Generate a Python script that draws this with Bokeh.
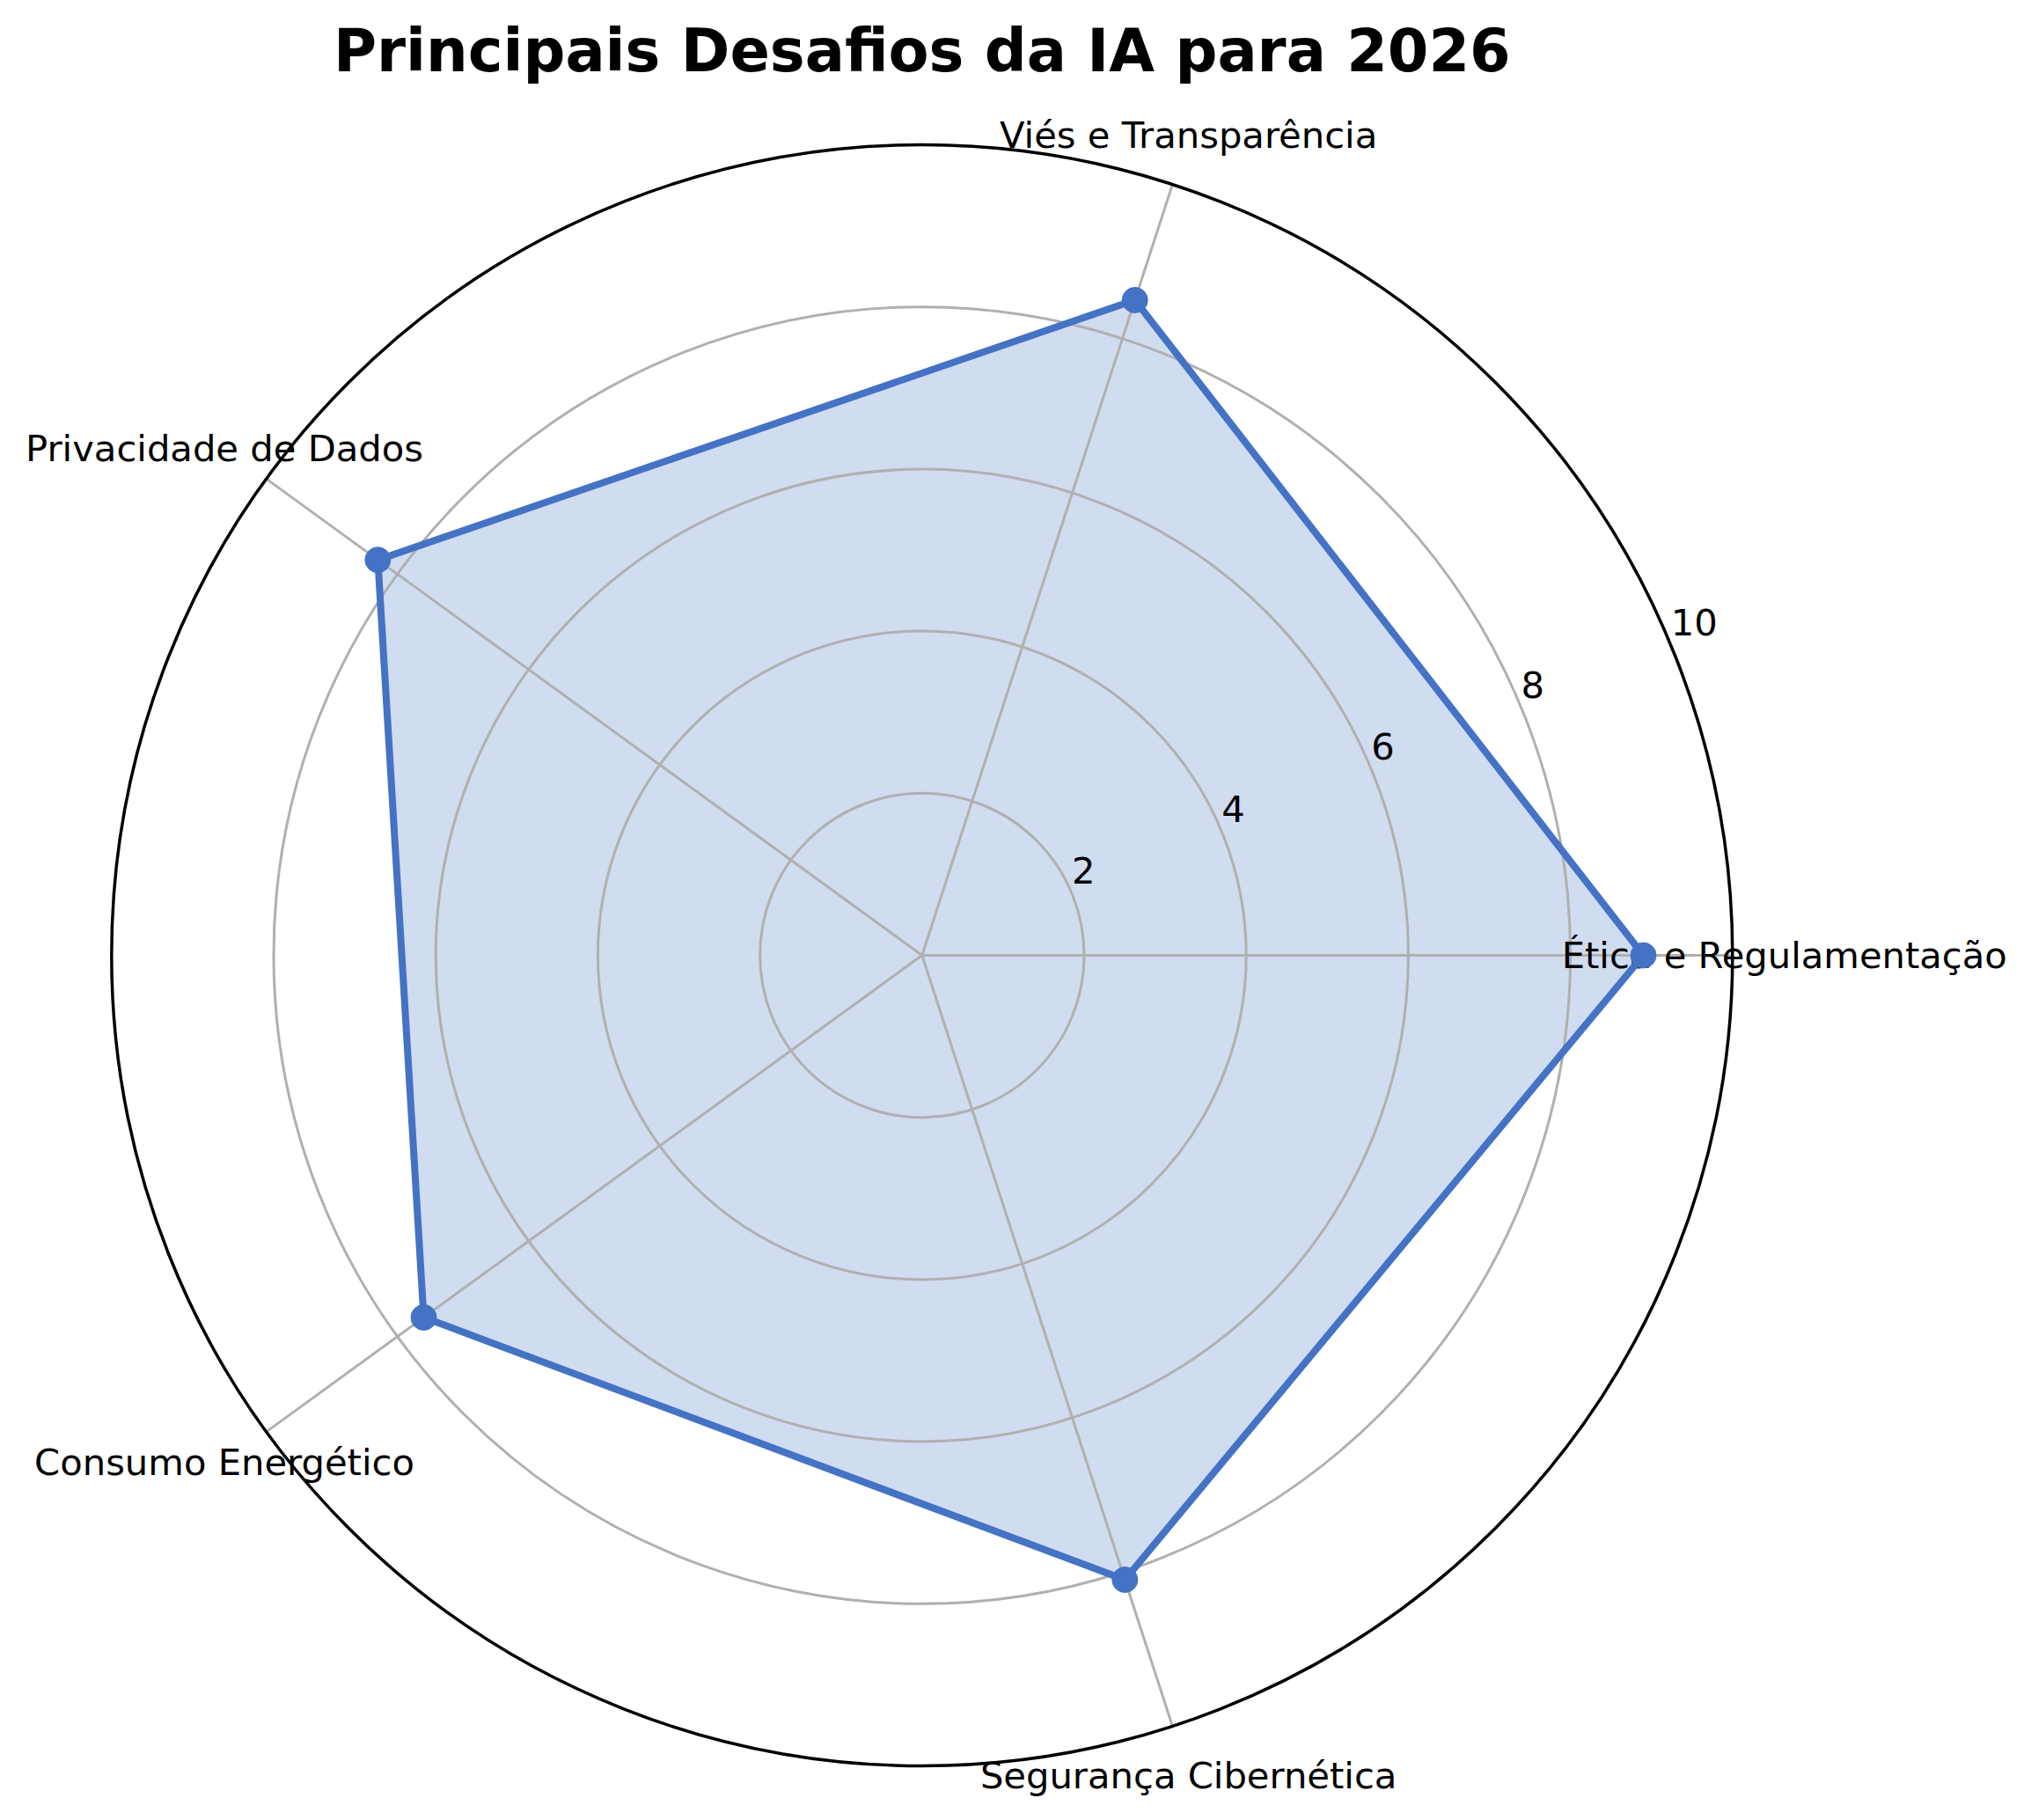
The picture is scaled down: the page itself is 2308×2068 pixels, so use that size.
import numpy as np
from bokeh.plotting import figure
from bokeh.models import Range1d
from bokeh.core.properties import value
from bokeh.embed import file_html
from bokeh.resources import INLINE

# ---- data ----
categories = ["Ética e Regulamentação", "Viés e Transparência", "Privacidade de Dados",
              "Consumo Energético", "Segurança Cibernética"]
scores = [8.9, 8.5, 8.3, 7.6, 8.1]
r_ticks = [2, 4, 6, 8, 10]
r_tick_labels = ["2", "4", "6", "8", "10"]
r_max = 10
title_text = "Principais Desafios da IA para 2026"

# ---- layout ----
W, H = 2292, 2052
ppu = 92.1                      # pixels per data unit
cx, cy = 1047.3, 1085.0         # centre in figure pixels
x0 = -cx / ppu
x1 = (W - cx) / ppu
y1 = cy / ppu
y0 = -(H - cy) / ppu

FONT = value("DejaVu Sans")
BLUE = "#4472C4"
GRID = "#b0b0b0"

p = figure(width=W, height=H, x_range=Range1d(x0, x1), y_range=Range1d(y0, y1),
           x_axis_type=None, y_axis_type=None, toolbar_location=None,
           output_backend="svg", min_border=0)
p.outline_line_color = None
p.background_fill_color = "white"
p.border_fill_color = "white"

n = len(categories)
ang = np.array([2 * np.pi * i / n for i in range(n)])
vals = np.array(scores, dtype=float)

px = vals * np.cos(ang)
py = vals * np.sin(ang)

# fill (below grid)
p.patch(list(px), list(py), fill_color=BLUE, fill_alpha=0.25, line_color=None)

# grid circles
inner = [t for t in r_ticks if t < r_max]
p.circle(x=[0] * len(inner), y=[0] * len(inner), radius=inner,
         fill_color=None, line_color=GRID, line_width=3)
# spokes
p.segment(x0=[0] * n, y0=[0] * n, x1=list(r_max * np.cos(ang)), y1=list(r_max * np.sin(ang)),
          line_color=GRID, line_width=3)
# outer spine
p.circle(x=[0], y=[0], radius=[r_max], fill_color=None, line_color="black", line_width=3.5)

# radial tick labels at 22.5 deg
ra = np.deg2rad(22.5)
rt = np.array(r_ticks, dtype=float)
p.text(x=list(rt * np.cos(ra)), y=list(rt * np.sin(ra) + 0.28), text=r_tick_labels,
       text_font=FONT, text_font_size="41.7px", text_color="black",
       text_align="left", text_baseline="middle")

# category labels
lr = 10.64
p.text(x=list(lr * np.cos(ang)), y=list(lr * np.sin(ang)), text=categories,
       text_font=FONT, text_font_size="41.7px", text_color="black",
       text_align="center", text_baseline="middle")

# outline and markers
p.line(list(np.append(px, px[0])), list(np.append(py, py[0])), line_color=BLUE, line_width=8)
p.scatter(list(px), list(py), size=29, fill_color=BLUE, line_color=BLUE, marker="circle")

# title
p.text(x=[0.0], y=[(cy - 57.2) / ppu], text=[title_text], text_font=FONT,
       text_font_size="67px", text_font_style="bold", text_color="black",
       text_align="center", text_baseline="middle")

open("out.html", "w").write(file_html(p, INLINE))
